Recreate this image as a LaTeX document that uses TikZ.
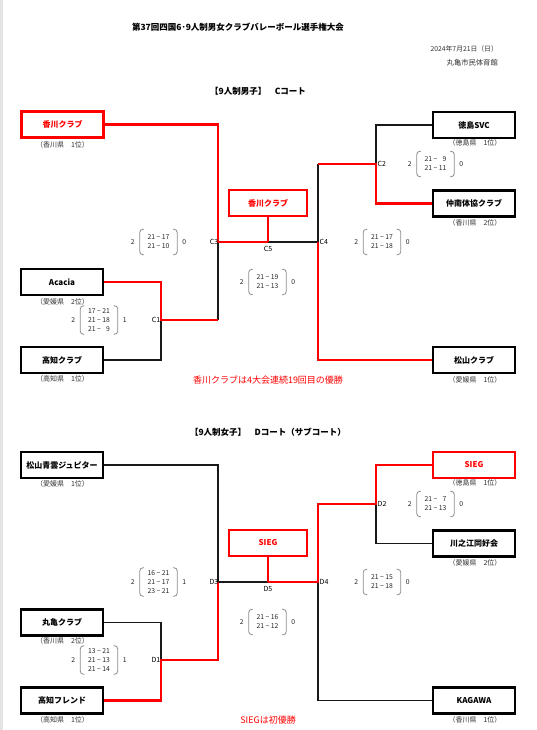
\documentclass[tikz,border=0pt]{standalone}
\usepackage{fontspec}
\setmainfont{Noto Sans CJK JP}
\tikzset{
 team/.style={draw, line width=2.2pt, minimum width=82pt, minimum height=26pt, inner sep=0pt, font=\bfseries\fontsize{8}{8}\selectfont},
 win/.style={team, draw=red, text=red},
 pref/.style={font=\fontsize{7}{7}\selectfont, text=black!80, inner sep=0pt},
 ln/.style={line width=1.6pt, black!90},
 rl/.style={line width=2.4pt, red},
 sc/.style={font=\fontsize{6.8}{9}\selectfont, align=center, inner sep=0pt, text=black!85},
 brk/.style={draw=black!45, line width=0.8pt, rounded corners=3pt},
 mlab/.style={font=\fontsize{7}{7}\selectfont, inner sep=0.5pt},
 head/.style={font=\bfseries\fontsize{8.5}{8.5}\selectfont, inner sep=0pt},
 note/.style={font=\fontsize{9}{9}\selectfont, text=red, inner sep=0pt},
}
\newcommand\ScoreSet[7]{%
 \node[sc, minimum width=37pt, minimum height=#7pt] (#1) at (#2,#3) {#4};
 \draw[brk] ([xshift=4pt]#1.north west) -- (#1.north west) -- (#1.south west) -- ([xshift=4pt]#1.south west);
 \draw[brk] ([xshift=-4pt]#1.north east) -- (#1.north east) -- (#1.south east) -- ([xshift=-4pt]#1.south east);
 \node[sc, anchor=east] (#1l) at ([xshift=-5pt]#1.west) {#5};
 \node[sc, anchor=west] (#1r) at ([xshift=5pt]#1.east) {#6};
}
\begin{document}
\begin{tikzpicture}[x=1pt,y=-1pt]
\useasboundingbox (0,0) rectangle (537,730);
\fill[black!10] (0,0) rectangle (2.5,730);

% header
\node[head] (title) at (238,27) {第37回四国6･9人制男女クラブバレーボール選手権大会};
\node[pref, anchor=east, font=\fontsize{6.8}{6.8}\selectfont] (date) at (498,49) {2024年7月21日（日）};
\node[pref, anchor=east, font=\fontsize{7.3}{7.3}\selectfont] (venue) at (498,63) {丸亀市民体育館};

% ===== Section 1 =====
\node[head] (h1) at (258,91) {【9人制男子】　Cコート};

\node[win]  (tA) at (62.5,124.5) {香川クラブ};
\node[team] (tB) at (62,282) {Acacia};
\node[team] (tC) at (62,360) {高知クラブ};
\node[team] (tD) at (474,125) {徳島SVC};
\node[team] (tE) at (474,203.5) {仲南体協クラブ};
\node[team] (tF) at (474,360) {松山クラブ};
\node[win, minimum width=78pt] (fC) at (268,203) {香川クラブ};

\node[pref] (pA) at (62.5,145) {（香川県　1位）};
\node[pref] (pB) at (62.5,302) {（愛媛県　2位）};
\node[pref] (pC) at (62.5,379) {（高知県　1位）};
\node[pref] (pD) at (475,143) {（徳島県　1位）};
\node[pref] (pE) at (475,223) {（香川県　2位）};
\node[pref] (pF) at (475,380) {（愛媛県　1位）};

\coordinate (C1) at (161,320);
\coordinate (C2) at (376,164);
\coordinate (C3) at (218,242);
\coordinate (C4) at (318,242);
\coordinate (C5) at (268,242);

\draw[ln] (tC.east) -| (C1);
\draw[ln] (C3) -- (C3 |- C1);
\draw[ln] (C5) -- (C4) -- (C4 |- C2);
\draw[ln] (tD.west) -| (C2);
\draw[rl] (tB.east) -| (C1) -- (C3 |- C1);
\draw[rl] (tA.east) -| (C3) -- (C5);
\draw[rl] (fC.south) -- (C5);
\draw[rl] (tE.west) -| (C2) -- (C4 |- C2);
\draw[rl] (tF.west) -| (C4);

\node[mlab, anchor=east] (lC1) at (C1) {C1};
\node[mlab, anchor=west] (lC2) at ([xshift=1pt]C2) {C2};
\node[mlab, anchor=east] (lC3) at ([xshift=1pt]C3) {C3};
\node[mlab, anchor=west] (lC4) at ([xshift=1pt]C4) {C4};
\node[mlab, anchor=north] (lC5) at ([yshift=-4pt]C5) {C5};

\ScoreSet{sC1}{99}{320}{17 − 21\\21 − 18\\21 − \phantom{1}9}{2}{1}{28}
\ScoreSet{sC2}{435.5}{164}{21 − \phantom{1}9\\21 − 11}{2}{0}{25}
\ScoreSet{sC3}{158.5}{242}{21 − 17\\21 − 10}{2}{0}{25}
\ScoreSet{sC4}{382}{242}{21 − 17\\21 − 18}{2}{0}{25}
\ScoreSet{sC5}{267.5}{282}{21 − 19\\21 − 13}{2}{0}{25}

\node[note] (n1) at (268,380) {香川クラブは4大会連続19回目の優勝};

% ===== Section 2 =====
\node[head] (h2) at (268,432) {【9人制女子】　Dコート（サブコート）};

\node[team] (sA) at (62,465) {松山青雲ジュピター};
\node[team] (sB) at (62,622.5) {丸亀クラブ};
\node[team] (sC) at (62,700.5) {高知フレンド};
\node[win]  (sD) at (474,465) {SIEG};
\node[team] (sE) at (474,543.5) {川之江同好会};
\node[team] (sF) at (474,700.5) {KAGAWA};
\node[win, minimum width=78pt] (fD) at (268,543) {SIEG};

\node[pref] (qA) at (62.5,484) {（愛媛県　1位）};
\node[pref] (qB) at (62.5,641) {（香川県　2位）};
\node[pref] (qC) at (62.5,720) {（高知県　1位）};
\node[pref] (qD) at (475,483) {（徳島県　1位）};
\node[pref] (qE) at (475,563) {（愛媛県　2位）};
\node[pref] (qF) at (475,720) {（香川県　1位）};

\coordinate (D1) at (161,660);
\coordinate (D2) at (376,504);
\coordinate (D3) at (218,582);
\coordinate (D4) at (318,582);
\coordinate (D5) at (268,582);

\draw[ln] (sA.east) -| (D3) -- (D5);
\draw[ln] (sB.east) -| (D1);
\draw[ln] (sE.west) -| (D2);
\draw[ln] (sF.west) -| (D4);
\draw[rl] (sC.east) -| (D1) -- (D3 |- D1) -- (D3);
\draw[rl] (sD.west) -| (D2) -- (D4 |- D2) -- (D4) -- (D5);
\draw[rl] (fD.south) -- (D5);

\node[mlab, anchor=east] (lD1) at (D1) {D1};
\node[mlab, anchor=west] (lD2) at ([xshift=1pt]D2) {D2};
\node[mlab, anchor=east] (lD3) at ([xshift=1pt]D3) {D3};
\node[mlab, anchor=west] (lD4) at ([xshift=1pt]D4) {D4};
\node[mlab, anchor=north] (lD5) at ([yshift=-4pt]D5) {D5};

\ScoreSet{sD1}{99}{660}{13 − 21\\21 − 13\\21 − 14}{2}{1}{28}
\ScoreSet{sD2}{435.5}{504}{21 − \phantom{1}7\\21 − 13}{2}{0}{25}
\ScoreSet{sD3}{158.5}{582}{16 − 21\\21 − 17\\23 − 21}{2}{1}{28}
\ScoreSet{sD4}{382}{582}{21 − 15\\21 − 18}{2}{0}{25}
\ScoreSet{sD5}{267.5}{622}{21 − 16\\21 − 12}{2}{0}{25}

\node[note] (n2) at (268,720) {SIEGは初優勝};
\end{tikzpicture}
\end{document}
